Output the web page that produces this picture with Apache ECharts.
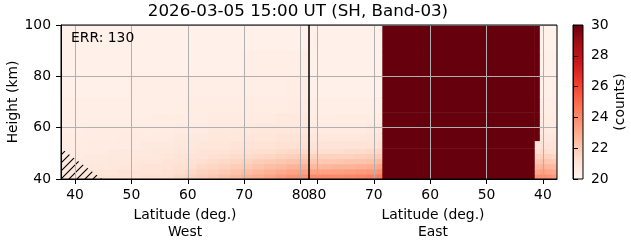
<!DOCTYPE html>
<html><head><meta charset="utf-8">
<script src="https://cdn.jsdelivr.net/npm/echarts@6/dist/echarts.min.js"></script>
<style>html,body{margin:0;padding:0;background:#fff}#c{width:631px;height:243px}</style>
</head><body><div id="c"></div>
<script>
// ---------- data ----------
const TITLE = '2026-03-05 15:00 UT (SH, Band-03)';
const ERR_TEXT = 'ERR: 130';
const WEST_NAME = 'Latitude (deg.)\nWest';
const EAST_NAME = 'Latitude (deg.)\nEast';
const Y_NAME = 'Height (km)';
const CB_NAME = '(counts)';
const LAT_TICKS = [40, 50, 60, 70, 80];
const COUNT_MIN = 20, COUNT_MAX = 30;
const HEIGHT_EDGES = [40, 42, 44, 46, 48, 50, 52, 55, 58, 62, 66, 72, 80, 90, 100];
const WEST_LAT_EDGES = [37.5, 39.5, 41.5, 43.5, 45.5, 47.5, 49.5, 51.5, 53.5, 55.5, 57.5,
  59.5, 61.5, 63.5, 65.5, 67.5, 69.5, 71.5, 73.5, 75.5, 77.5, 79.5, 81.5];
// rows bottom (40 km) -> top (100 km), columns in increasing latitude
const WEST_VALUES = [
  [20.9, 20.9, 21.0, 21.0, 21.0, 21.1, 21.1, 21.2, 21.2, 21.3, 21.5, 21.7, 21.9, 22.1, 22.3, 22.5, 22.8, 23.0, 23.2, 23.5, 23.7, 23.8],
  [20.8, 20.8, 20.9, 20.9, 20.9, 21.0, 21.0, 21.1, 21.1, 21.2, 21.3, 21.5, 21.7, 21.8, 22.0, 22.2, 22.4, 22.6, 22.8, 23.0, 23.2, 23.3],
  [20.7, 20.7, 20.8, 20.8, 20.8, 20.9, 20.9, 21.0, 21.0, 21.1, 21.2, 21.3, 21.5, 21.6, 21.7, 21.9, 22.0, 22.2, 22.4, 22.5, 22.7, 22.8],
  [20.7, 20.7, 20.7, 20.7, 20.8, 20.8, 20.8, 20.9, 20.9, 21.0, 21.1, 21.2, 21.3, 21.4, 21.5, 21.6, 21.7, 21.9, 22.0, 22.1, 22.2, 22.3],
  [20.6, 20.6, 20.7, 20.7, 20.7, 20.7, 20.8, 20.8, 20.8, 20.9, 21.0, 21.0, 21.1, 21.2, 21.3, 21.4, 21.4, 21.5, 21.6, 21.7, 21.8, 21.9],
  [20.6, 20.6, 20.6, 20.6, 20.7, 20.7, 20.7, 20.7, 20.8, 20.8, 20.9, 20.9, 21.0, 21.0, 21.1, 21.2, 21.2, 21.3, 21.3, 21.4, 21.5, 21.5],
  [20.5, 20.5, 20.6, 20.6, 20.6, 20.6, 20.6, 20.7, 20.7, 20.7, 20.8, 20.8, 20.9, 20.9, 20.9, 21.0, 21.0, 21.1, 21.1, 21.2, 21.2, 21.2],
  [20.5, 20.5, 20.5, 20.5, 20.5, 20.6, 20.6, 20.6, 20.6, 20.6, 20.7, 20.7, 20.7, 20.8, 20.8, 20.8, 20.9, 20.9, 20.9, 21.0, 21.0, 21.0],
  [20.4, 20.4, 20.5, 20.5, 20.5, 20.5, 20.5, 20.5, 20.5, 20.5, 20.6, 20.6, 20.6, 20.7, 20.7, 20.7, 20.7, 20.8, 20.8, 20.8, 20.8, 20.8],
  [20.4, 20.4, 20.4, 20.4, 20.4, 20.4, 20.4, 20.4, 20.5, 20.5, 20.5, 20.5, 20.5, 20.6, 20.6, 20.6, 20.6, 20.6, 20.6, 20.7, 20.7, 20.7],
  [20.4, 20.4, 20.4, 20.4, 20.4, 20.4, 20.4, 20.4, 20.4, 20.4, 20.4, 20.5, 20.5, 20.5, 20.5, 20.5, 20.5, 20.5, 20.5, 20.5, 20.6, 20.6],
  [20.3, 20.3, 20.3, 20.3, 20.3, 20.3, 20.4, 20.4, 20.4, 20.4, 20.4, 20.4, 20.4, 20.4, 20.4, 20.4, 20.4, 20.4, 20.4, 20.4, 20.5, 20.5],
  [20.3, 20.3, 20.3, 20.3, 20.3, 20.3, 20.3, 20.3, 20.3, 20.3, 20.3, 20.3, 20.3, 20.3, 20.3, 20.3, 20.4, 20.4, 20.4, 20.4, 20.4, 20.4],
  [20.3, 20.3, 20.3, 20.3, 20.3, 20.3, 20.3, 20.3, 20.3, 20.3, 20.3, 20.3, 20.3, 20.3, 20.3, 20.3, 20.3, 20.3, 20.3, 20.3, 20.3, 20.3]
];
const EAST_LAT_EDGES = [37.5, 38.5, 39.5, 40.65, 41.55, 68.6, 69.5, 71.5, 73.5, 75.5, 77.5, 79.5, 81.5];
const EAST_VALUES = [
  [23.5, 23.7, 23.9, 23.7, 31, 24.5, 24.3, 24.2, 24.1, 24.0, 24.0, 24.0],
  [23.0, 23.1, 23.3, 23.1, 31, 23.8, 23.6, 23.5, 23.4, 23.3, 23.3, 23.3],
  [22.5, 22.6, 22.7, 22.6, 31, 23.1, 22.9, 22.8, 22.7, 22.7, 22.6, 22.6],
  [22.0, 22.1, 22.2, 22.1, 31, 22.5, 22.3, 22.2, 22.2, 22.1, 22.1, 22.1],
  [21.6, 21.7, 21.7, 21.7, 31, 22.0, 21.9, 21.8, 21.7, 21.7, 21.7, 21.7],
  [21.3, 21.3, 21.4, 21.3, 31, 21.6, 21.5, 21.4, 21.4, 21.3, 21.3, 21.3],
  [21.0, 21.0, 21.0, 21.0, 31, 21.2, 21.1, 21.1, 21.0, 21.0, 21.0, 21.0],
  [20.8, 20.8, 20.8, 31, 31, 20.9, 20.9, 20.8, 20.8, 20.8, 20.8, 20.8],
  [20.6, 20.6, 20.6, 31, 31, 20.7, 20.7, 20.6, 20.6, 20.6, 20.6, 20.6],
  [20.5, 20.5, 20.5, 31, 31, 20.5, 20.5, 20.5, 20.5, 20.5, 20.5, 20.5],
  [20.4, 20.4, 20.4, 31, 31, 20.4, 20.4, 20.4, 20.4, 20.4, 20.4, 20.4],
  [20.3, 20.3, 20.3, 31, 31, 20.3, 20.3, 20.3, 20.3, 20.3, 20.3, 20.3],
  [20.3, 20.3, 20.3, 31, 31, 20.3, 20.3, 20.3, 20.3, 20.3, 20.3, 20.3],
  [20.2, 20.2, 20.2, 31, 31, 20.3, 20.3, 20.3, 20.3, 20.3, 20.3, 20.3]
];
// hatched (no data) region, west panel, bottom-left corner
const HATCH_LAT = [37.5, 37.5, 44.8];
const HATCH_HEIGHT = [40, 52, 40];

// ---------- styling ----------
const REDS = ['#fff5f0', '#fee0d2', '#fcbba1', '#fc9272', '#fb6a4a', '#ef3b2c', '#cb181d', '#a50f15', '#67000d'];
const FONT = 'DejaVu Sans';
const FS = 13.9;

function cells(latEdges, values) {
  const out = [];
  for (let r = 0; r < values.length; r++) {
    for (let c = 0; c < values[r].length; c++) {
      out.push([latEdges[c], latEdges[c + 1], HEIGHT_EDGES[r], HEIGHT_EDGES[r + 1], values[r][c]]);
    }
  }
  return out;
}
function colorOf(v) {
  const t = Math.max(0, Math.min(1, (v - COUNT_MIN) / (COUNT_MAX - COUNT_MIN)));
  return echarts.color.lerp(t, REDS);
}
function renderCell(params, api) {
  const p0 = api.coord([api.value(0), api.value(2)]);
  const p1 = api.coord([api.value(1), api.value(3)]);
  const x = Math.min(p0[0], p1[0]), y = Math.min(p0[1], p1[1]);
  return {
    type: 'rect',
    shape: { x: x, y: y, width: Math.abs(p1[0] - p0[0]) + 0.6, height: Math.abs(p1[1] - p0[1]) + 0.6 },
    style: { fill: colorOf(api.value(4)), stroke: null }
  };
}
function hatchCanvas() {
  const s = 8;
  const c = document.createElement('canvas');
  c.width = s; c.height = s;
  const g = c.getContext('2d');
  g.strokeStyle = '#000'; g.lineWidth = 1.1;
  g.beginPath();
  g.moveTo(-2, s + 2); g.lineTo(s + 2, -2);
  g.moveTo(-2, 2); g.lineTo(2, -2);
  g.moveTo(s - 2, s + 2); g.lineTo(s + 2, s - 2);
  g.stroke();
  return c;
}
const HATCH_IMG = hatchCanvas();

const labelStyle = { color: '#000', fontSize: FS, fontFamily: FONT };
function latAxis(gridIndex, inverse, name) {
  return {
    gridIndex: gridIndex, type: 'value', min: 37.5, max: 81.5, inverse: inverse, z: 5,
    axisLine: { show: true, onZero: false, lineStyle: { color: '#000', width: 1 } },
    axisTick: { show: true, customValues: LAT_TICKS, length: 5, lineStyle: { color: '#000', width: 1 } },
    axisLabel: Object.assign({ customValues: LAT_TICKS, margin: 9 }, labelStyle),
    splitLine: { show: true, lineStyle: { color: '#b0b0b0', width: 1 } },
    name: name, nameLocation: 'middle', nameGap: 26,
    nameTextStyle: Object.assign({ lineHeight: 16.7 }, labelStyle)
  };
}
function heightAxis(gridIndex, showLabels) {
  return {
    gridIndex: gridIndex, type: 'value', min: 40, max: 100, interval: 20, z: 5,
    axisLine: { show: showLabels, onZero: false, lineStyle: { color: '#000', width: 1 } },
    axisTick: { show: showLabels, length: 5, lineStyle: { color: '#000', width: 1 } },
    axisLabel: Object.assign({ show: showLabels, margin: 10 }, labelStyle),
    splitLine: { show: true, lineStyle: { color: '#b0b0b0', width: 1 } },
    name: showLabels ? Y_NAME : '', nameLocation: 'middle', nameGap: 40,
    nameTextStyle: labelStyle
  };
}
const gridBase = {
  top: 25, height: 154, show: true, borderColor: '#000', borderWidth: 1,
  backgroundColor: 'transparent', z: 6, containLabel: false, outerBoundsMode: 'none'
};

const chart = echarts.init(document.getElementById('c'), null, { renderer: 'canvas' });
chart.setOption({
  animation: false,
  backgroundColor: '#fff',
  title: {
    text: TITLE, left: 298, top: 3, textAlign: 'center', padding: 0,
    textStyle: { fontSize: 16.7, fontWeight: 'normal', color: '#000', fontFamily: FONT }
  },
  grid: [
    Object.assign({ left: 61, width: 248 }, gridBase),
    Object.assign({ left: 309, width: 248 }, gridBase),
    Object.assign({ left: 573, width: 10 }, gridBase)
  ],
  xAxis: [
    latAxis(0, false, WEST_NAME),
    latAxis(1, true, EAST_NAME),
    { gridIndex: 2, type: 'value', min: 0, max: 1, show: false }
  ],
  yAxis: [
    heightAxis(0, true),
    heightAxis(1, false),
    {
      gridIndex: 2, type: 'value', position: 'right', min: COUNT_MIN, max: COUNT_MAX, interval: 2, z: 7,
      axisLine: { show: true, lineStyle: { color: '#000', width: 1 } },
      axisTick: { show: true, length: 5, lineStyle: { color: '#000', width: 1 } },
      axisLabel: Object.assign({ margin: 8 }, labelStyle),
      splitLine: { show: false },
      name: CB_NAME, nameLocation: 'middle', nameGap: 30, nameTextStyle: labelStyle
    }
  ],
  graphic: [{
    type: 'text', left: 71, top: 31, z: 10,
    style: { text: ERR_TEXT, fill: '#000', font: FS + 'px "' + FONT + '"' }
  }],
  series: [
    {
      type: 'custom', name: 'West', xAxisIndex: 0, yAxisIndex: 0, clip: true, z: 2,
      encode: { x: [0, 1], y: [2, 3] }, renderItem: renderCell, data: cells(WEST_LAT_EDGES, WEST_VALUES)
    },
    {
      type: 'custom', name: 'East', xAxisIndex: 1, yAxisIndex: 1, clip: true, z: 2,
      encode: { x: [0, 1], y: [2, 3] }, renderItem: renderCell, data: cells(EAST_LAT_EDGES, EAST_VALUES)
    },
    {
      type: 'custom', name: 'NoData', xAxisIndex: 0, yAxisIndex: 0, clip: true, z: 3,
      encode: { x: 0, y: 1 },
      data: HATCH_LAT.map(function (lat, i) { return [lat, HATCH_HEIGHT[i]]; }),
      renderItem: function (params, api) {
        if (params.dataIndex !== 0) return null;
        const pts = HATCH_LAT.map(function (lat, i) { return api.coord([lat, HATCH_HEIGHT[i]]); });
        return { type: 'polygon', shape: { points: pts }, style: { fill: { image: HATCH_IMG, repeat: 'repeat' }, stroke: null } };
      }
    },
    {
      type: 'custom', name: 'Colorbar', xAxisIndex: 2, yAxisIndex: 2, z: 2,
      encode: { y: [0, 1] },
      data: [[COUNT_MIN, COUNT_MAX]],
      renderItem: function (params, api) {
        const p0 = api.coord([0, api.value(0)]);
        const p1 = api.coord([1, api.value(1)]);
        return {
          type: 'rect',
          shape: { x: p0[0], y: p1[1], width: p1[0] - p0[0], height: p0[1] - p1[1] },
          style: {
            fill: new echarts.graphic.LinearGradient(0, 1, 0, 0,
              REDS.map(function (c, i) { return { offset: i / (REDS.length - 1), color: c }; })),
            stroke: null
          }
        };
      }
    }
  ]
});
</script></body></html>
